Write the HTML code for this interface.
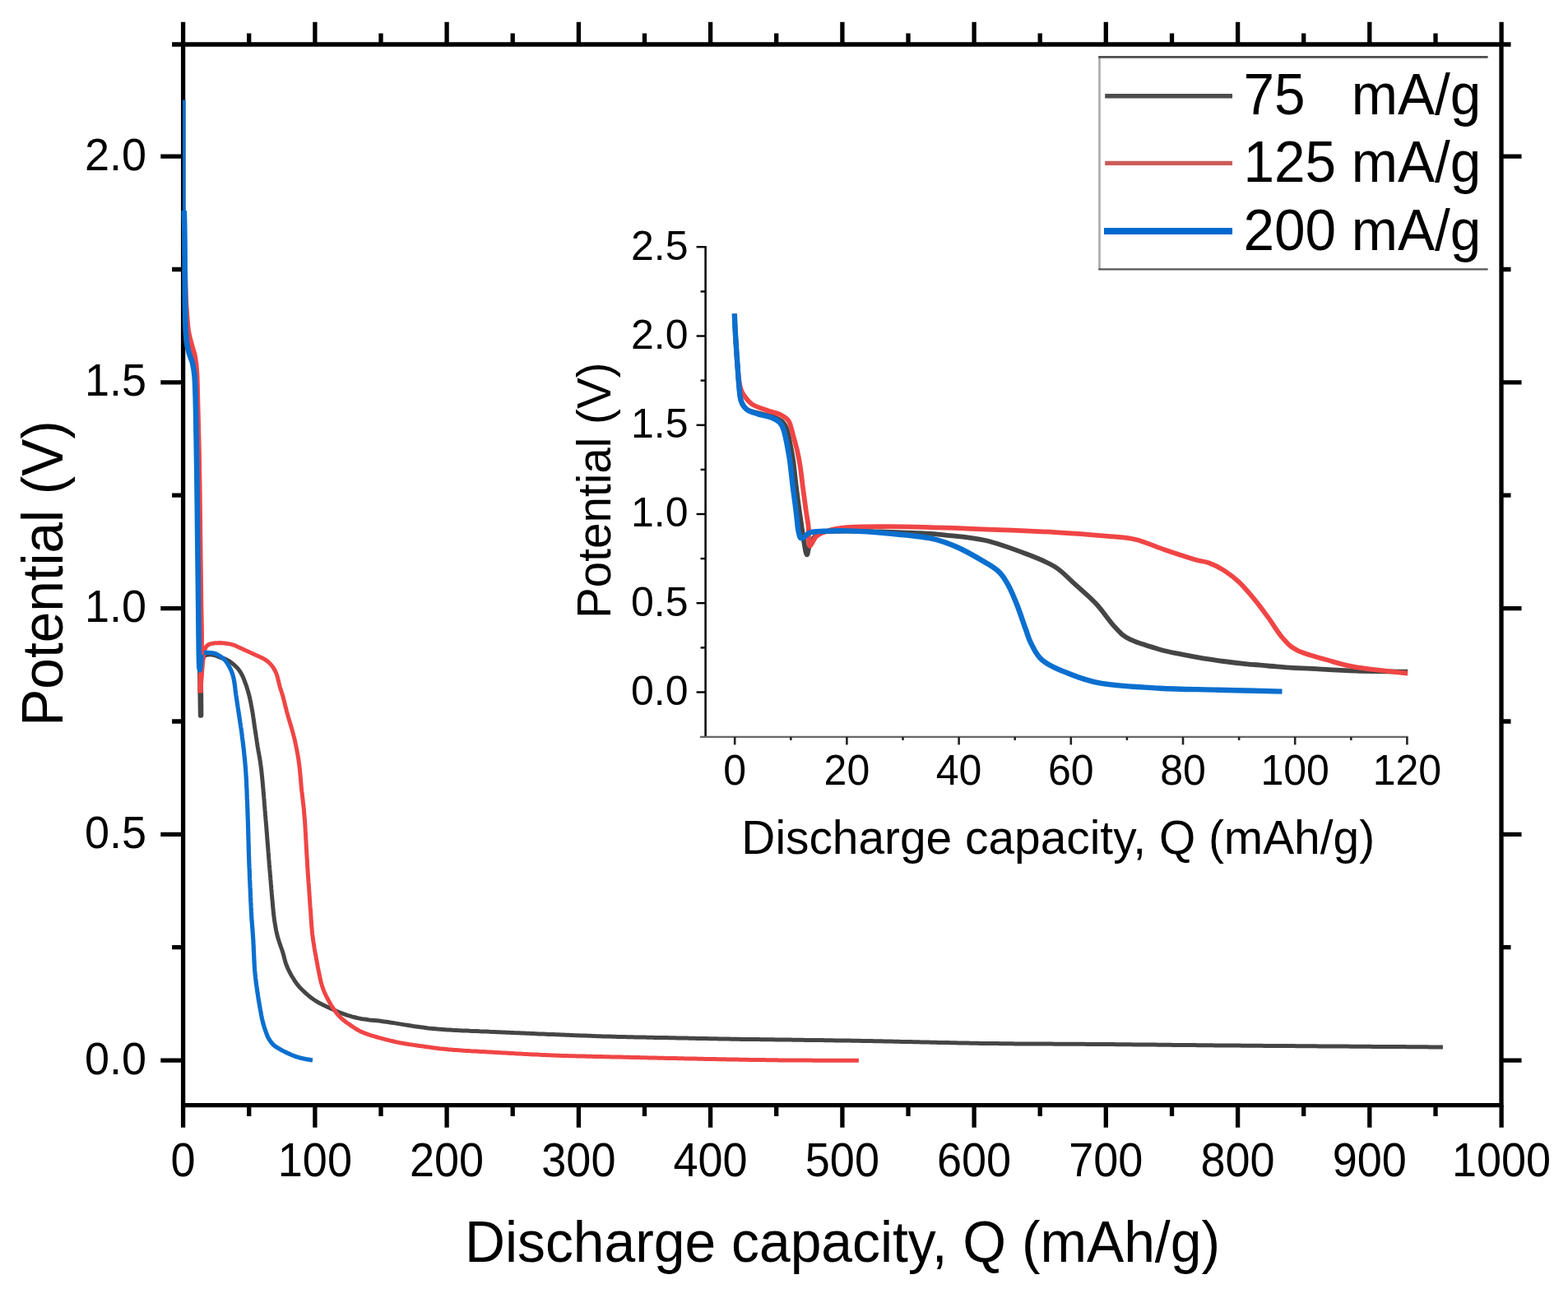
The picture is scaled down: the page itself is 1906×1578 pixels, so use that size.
<!DOCTYPE html>
<html><head><meta charset="utf-8"><title>Discharge capacity plot</title>
<style>
html,body{margin:0;padding:0;background:#fff;}
svg{display:block;}
text{font-family:"Liberation Sans", Arial, sans-serif;fill:#000;}
</style></head><body>
<svg width="1906" height="1578" viewBox="0 0 1906 1578">
<rect x="0" y="0" width="1906" height="1578" fill="#fff"/>
<g stroke="#000" stroke-width="5.3" fill="none" stroke-linecap="butt">
<path d="M222.6,54.0 H1825.0 V1343.6 H222.6 Z" stroke-linejoin="miter"/>
<path d="M222.6,1343.6 V1370.8 M222.6,54.0 V26.8"/>
<path d="M302.7,1343.6 V1357.1 M302.7,54.0 V40.5"/>
<path d="M382.9,1343.6 V1370.8 M382.9,54.0 V26.8"/>
<path d="M463.0,1343.6 V1357.1 M463.0,54.0 V40.5"/>
<path d="M543.1,1343.6 V1370.8 M543.1,54.0 V26.8"/>
<path d="M623.2,1343.6 V1357.1 M623.2,54.0 V40.5"/>
<path d="M703.4,1343.6 V1370.8 M703.4,54.0 V26.8"/>
<path d="M783.5,1343.6 V1357.1 M783.5,54.0 V40.5"/>
<path d="M863.6,1343.6 V1370.8 M863.6,54.0 V26.8"/>
<path d="M943.7,1343.6 V1357.1 M943.7,54.0 V40.5"/>
<path d="M1023.9,1343.6 V1370.8 M1023.9,54.0 V26.8"/>
<path d="M1104.0,1343.6 V1357.1 M1104.0,54.0 V40.5"/>
<path d="M1184.1,1343.6 V1370.8 M1184.1,54.0 V26.8"/>
<path d="M1264.2,1343.6 V1357.1 M1264.2,54.0 V40.5"/>
<path d="M1344.3,1343.6 V1370.8 M1344.3,54.0 V26.8"/>
<path d="M1424.5,1343.6 V1357.1 M1424.5,54.0 V40.5"/>
<path d="M1504.6,1343.6 V1370.8 M1504.6,54.0 V26.8"/>
<path d="M1584.7,1343.6 V1357.1 M1584.7,54.0 V40.5"/>
<path d="M1664.8,1343.6 V1370.8 M1664.8,54.0 V26.8"/>
<path d="M1745.0,1343.6 V1357.1 M1745.0,54.0 V40.5"/>
<path d="M1825.1,1343.6 V1370.8 M1825.1,54.0 V26.8"/>
<path d="M222.6,1289.1 H195.3 M1825.0,1289.1 H1849.5"/>
<path d="M222.6,1151.7 H209.1 M1825.0,1151.7 H1836.5"/>
<path d="M222.6,1014.3 H195.3 M1825.0,1014.3 H1849.5"/>
<path d="M222.6,877.0 H209.1 M1825.0,877.0 H1836.5"/>
<path d="M222.6,739.6 H195.3 M1825.0,739.6 H1849.5"/>
<path d="M222.6,602.2 H209.1 M1825.0,602.2 H1836.5"/>
<path d="M222.6,464.8 H195.3 M1825.0,464.8 H1849.5"/>
<path d="M222.6,327.5 H209.1 M1825.0,327.5 H1836.5"/>
<path d="M222.6,190.1 H195.3 M1825.0,190.1 H1849.5"/>
<path d="M222.6,54.0 H209.1 M1825.0,54.0 H1836.5"/>
</g>
<g fill="none" stroke-linejoin="round" stroke-linecap="butt">
<path d="M224.8,349.5 C224.9,356.5 225.1,380.5 225.4,391.8 C225.8,403.0 226.2,410.6 227.1,417.0 C228.0,423.5 229.7,426.2 231.0,430.2 C232.3,434.3 233.9,436.9 234.9,441.2 C236.0,445.5 236.7,449.8 237.3,456.1 C237.9,462.3 238.2,468.0 238.5,478.6 C238.9,489.2 239.1,503.8 239.4,519.8 C239.7,535.8 240.0,552.7 240.3,574.7 C240.6,596.8 240.8,626.4 241.1,652.2 C241.4,678.1 241.6,694.3 242.1,729.7 C242.6,765.2 243.7,846.8 244.0,864.9 C244.3,883.0 243.9,842.9 243.9,838.5 L244.0,835.5 L244.2,832.5 L244.3,829.5 L244.4,826.5 L244.6,823.5 L244.7,820.5 L244.9,817.5 L245.1,814.5 L245.3,811.5 L245.6,808.6 L245.9,805.6 L246.3,802.6 L247.0,799.7 L248.7,797.3 L251.5,796.1 L254.4,795.8 L257.4,796.0 L260.4,796.5 L263.2,797.5 L266.0,798.7 L268.8,799.7 L271.7,800.4 L274.5,801.4 L277.1,802.9 L279.7,804.5 L282.1,806.3 L284.4,808.1 L286.6,810.2 L288.7,812.3 L290.6,814.7 L292.3,817.1 L293.7,819.7 L295.1,822.4 L296.2,825.2 L297.3,828.0 L298.4,830.8 L299.4,833.6 L300.3,836.5 L301.2,839.4 L302.0,842.2 L302.8,845.1 L303.5,848.1 L304.1,851.0 L304.8,853.9 L305.3,856.9 L305.9,859.8 L306.4,862.8 L306.9,865.7 L307.4,868.7 L307.8,871.7 L308.3,874.6 L308.7,877.6 L309.1,880.6 L309.5,883.5 L310.0,886.5 L310.4,889.5 L310.9,892.4 L311.3,895.4 L311.8,898.4 L312.2,901.3 L312.7,904.3 L313.1,907.3 L313.6,910.2 L314.1,913.2 L314.7,916.1 L315.2,919.1 L315.7,922.0 L316.2,925.0 L316.6,928.0 L317.0,930.9 L317.4,933.9 L317.8,936.9 L318.1,939.9 L318.4,942.9 L318.7,945.8 L319.0,948.8 L319.3,951.8 L319.5,954.8 L319.8,957.8 L320.1,960.8 L320.3,963.8 L320.6,966.8 L320.8,969.7 L321.1,972.7 L321.3,975.7 L321.5,978.7 L321.8,981.7 L322.0,984.7 L322.3,987.7 L322.5,990.7 L322.8,993.7 L323.0,996.7 L323.3,999.6 L323.5,1002.6 L323.8,1005.6 L324.0,1008.6 L324.2,1011.6 L324.5,1014.6 L324.7,1017.6 L324.9,1020.6 L325.2,1023.6 L325.4,1026.6 L325.7,1029.6 L325.9,1032.5 L326.1,1035.5 L326.4,1038.5 L326.6,1041.5 L326.8,1044.5 L327.1,1047.5 L327.3,1050.5 L327.6,1053.5 L327.8,1056.5 L328.1,1059.5 L328.3,1062.4 L328.6,1065.4 L328.8,1068.4 L329.1,1071.4 L329.3,1074.4 L329.6,1077.4 L329.8,1080.4 L330.1,1083.4 L330.3,1086.4 L330.6,1089.4 L330.8,1092.3 L331.1,1095.3 L331.4,1098.3 L331.6,1101.3 L331.9,1104.3 L332.2,1107.3 L332.5,1110.3 L332.8,1113.2 L333.2,1116.2 L333.6,1119.2 L334.1,1122.2 L334.6,1125.1 L335.1,1128.1 L335.6,1131.0 L336.3,1133.9 L337.0,1136.9 L337.7,1139.8 L338.6,1142.6 L339.5,1145.5 L340.5,1148.3 L341.5,1151.2 L342.5,1154.0 L343.4,1156.8 L344.3,1159.7 L345.1,1162.6 L345.8,1165.5 L346.6,1168.4 L347.5,1171.3 L348.5,1174.1 L349.7,1176.9 L350.9,1179.6 L352.3,1182.2 L353.7,1184.9 L355.2,1187.5 L356.8,1190.0 L358.4,1192.6 L360.1,1195.0 L361.9,1197.4 L363.8,1199.8 L365.8,1201.9 L368.0,1204.0 L370.2,1206.1 L372.4,1208.1 L374.7,1210.1 L377.0,1212.0 L379.3,1213.8 L381.8,1215.5 L384.3,1217.1 L386.9,1218.7 L389.5,1220.1 L392.2,1221.4 L394.9,1222.8 L397.6,1224.0 L400.3,1225.3 L403.1,1226.6 L405.8,1227.8 L408.5,1229.0 L411.3,1230.2 L414.1,1231.4 L416.9,1232.4 L419.7,1233.4 L422.5,1234.4 L425.4,1235.2 L428.3,1236.1 L431.2,1236.8 L434.1,1237.5 L437.0,1238.1 L440.0,1238.7 L443.0,1239.1 L445.9,1239.5 L448.9,1239.9 L451.9,1240.2 L454.9,1240.5 L457.9,1240.8 L460.8,1241.1 L463.8,1241.5 L466.8,1241.9 L469.8,1242.3 L472.7,1242.7 L475.7,1243.2 L478.6,1243.6 L481.6,1244.1 L484.6,1244.6 L487.5,1245.1 L490.5,1245.6 L493.5,1246.1 L496.4,1246.5 L499.4,1247.0 L502.3,1247.5 L505.3,1247.9 L508.3,1248.3 L511.2,1248.7 L514.2,1249.1 L517.2,1249.5 L520.2,1249.9 L523.2,1250.2 L526.1,1250.5 L529.1,1250.8 L532.1,1251.1 L535.1,1251.3 L538.1,1251.5 L541.1,1251.7 L544.1,1251.9 L547.1,1252.1 L550.1,1252.3 L553.1,1252.4 L556.0,1252.6 L559.0,1252.7 L562.0,1252.9 L565.0,1253.0 L568.0,1253.1 L571.0,1253.3 L574.0,1253.4 L577.0,1253.5 L580.0,1253.6 L583.0,1253.8 L586.0,1253.9 L589.0,1254.0 L592.0,1254.1 L595.0,1254.3 L598.0,1254.4 L601.0,1254.5 L604.0,1254.7 L607.0,1254.8 L610.0,1254.9 L613.0,1255.0 L616.0,1255.2 L619.0,1255.3 L622.0,1255.4 L625.0,1255.6 L628.0,1255.7 L631.0,1255.8 L634.0,1256.0 L637.0,1256.1 L640.0,1256.2 L643.0,1256.3 L646.0,1256.5 L649.0,1256.6 L652.0,1256.7 L655.0,1256.9 L658.0,1257.0 L661.0,1257.1 L663.9,1257.2 L666.9,1257.4 L669.9,1257.5 L672.9,1257.6 L675.9,1257.7 L678.9,1257.8 L681.9,1258.0 L684.9,1258.1 L687.9,1258.2 L690.9,1258.3 L693.9,1258.4 L696.9,1258.6 L699.9,1258.7 L702.9,1258.8 L705.9,1258.9 L708.9,1259.0 L711.9,1259.1 L714.9,1259.2 L717.9,1259.3 L720.9,1259.4 L723.9,1259.6 L726.9,1259.7 L729.9,1259.8 L732.9,1259.9 L735.9,1260.0 L738.9,1260.0 L741.9,1260.1 L744.9,1260.2 L747.9,1260.3 L750.9,1260.4 L753.9,1260.5 L756.9,1260.6 L759.9,1260.6 L762.9,1260.7 L765.9,1260.8 L768.9,1260.8 L771.9,1260.9 L774.9,1261.0 L777.9,1261.0 L780.9,1261.1 L783.9,1261.1 L786.9,1261.2 L789.9,1261.2 L792.9,1261.3 L795.9,1261.4 L798.9,1261.4 L801.9,1261.5 L804.9,1261.5 L807.9,1261.6 L810.9,1261.6 L813.9,1261.7 L816.9,1261.7 L819.9,1261.8 L822.9,1261.9 L825.9,1261.9 L828.9,1262.0 L831.9,1262.0 L834.9,1262.1 L837.9,1262.2 L840.9,1262.2 L843.9,1262.3 L846.9,1262.4 L849.9,1262.4 L852.9,1262.5 L855.9,1262.5 L858.9,1262.6 L861.9,1262.7 L864.9,1262.7 L867.9,1262.8 L870.9,1262.8 L873.9,1262.9 L876.9,1263.0 L879.9,1263.0 L882.9,1263.1 L885.9,1263.1 L888.9,1263.2 L891.9,1263.2 L894.9,1263.3 L897.9,1263.3 L900.9,1263.4 L903.9,1263.4 L906.9,1263.4 L909.9,1263.5 L912.9,1263.5 L915.9,1263.6 L918.9,1263.6 L921.9,1263.6 L924.9,1263.7 L927.9,1263.7 L930.9,1263.7 L933.9,1263.8 L936.9,1263.8 L939.9,1263.8 L942.9,1263.9 L945.9,1263.9 L948.9,1264.0 L951.9,1264.0 L954.9,1264.0 L957.9,1264.1 L960.9,1264.1 L963.9,1264.2 L966.9,1264.2 L969.9,1264.2 L972.9,1264.3 L975.9,1264.3 L978.9,1264.4 L981.9,1264.4 L984.9,1264.4 L987.9,1264.5 L990.9,1264.5 L993.9,1264.6 L996.9,1264.6 L999.9,1264.6 L1002.9,1264.7 L1005.9,1264.7 L1008.8,1264.8 L1011.8,1264.8 L1014.8,1264.9 L1017.8,1264.9 L1020.8,1265.0 L1023.8,1265.0 L1026.8,1265.0 L1029.8,1265.1 L1032.8,1265.1 L1035.8,1265.2 L1038.8,1265.2 L1041.8,1265.3 L1044.8,1265.3 L1047.8,1265.4 L1050.8,1265.4 L1053.8,1265.5 L1056.8,1265.6 L1059.8,1265.6 L1062.8,1265.7 L1065.8,1265.7 L1068.8,1265.8 L1071.8,1265.8 L1074.8,1265.9 L1077.8,1266.0 L1080.8,1266.0 L1083.8,1266.1 L1086.8,1266.2 L1089.8,1266.2 L1092.8,1266.3 L1095.8,1266.4 L1098.8,1266.4 L1101.8,1266.5 L1104.8,1266.6 L1107.8,1266.6 L1110.8,1266.7 L1113.8,1266.8 L1116.8,1266.8 L1119.8,1266.9 L1122.8,1267.0 L1125.8,1267.0 L1128.8,1267.1 L1131.8,1267.2 L1134.8,1267.2 L1137.8,1267.3 L1140.8,1267.4 L1143.8,1267.4 L1146.8,1267.5 L1149.8,1267.6 L1152.8,1267.6 L1155.8,1267.7 L1158.8,1267.8 L1161.8,1267.8 L1164.8,1267.9 L1167.8,1267.9 L1170.8,1268.0 L1173.8,1268.1 L1176.8,1268.1 L1179.8,1268.2 L1182.8,1268.2 L1185.8,1268.3 L1188.8,1268.3 L1191.8,1268.4 L1194.8,1268.4 L1197.8,1268.4 L1200.8,1268.5 L1203.8,1268.5 L1206.8,1268.6 L1209.8,1268.6 L1212.8,1268.6 L1215.8,1268.7 L1218.8,1268.7 L1221.8,1268.7 L1224.8,1268.8 L1227.8,1268.8 L1230.8,1268.8 L1233.8,1268.9 L1236.8,1268.9 L1239.8,1268.9 L1242.8,1268.9 L1245.8,1268.9 L1248.8,1269.0 L1251.8,1269.0 L1254.8,1269.0 L1257.8,1269.0 L1260.8,1269.0 L1263.8,1269.1 L1266.8,1269.1 L1269.8,1269.1 L1272.8,1269.1 L1275.8,1269.1 L1278.8,1269.1 L1281.8,1269.2 L1284.8,1269.2 L1287.8,1269.2 L1290.8,1269.2 L1293.8,1269.2 L1296.8,1269.2 L1299.8,1269.2 L1302.8,1269.3 L1305.8,1269.3 L1308.8,1269.3 L1311.8,1269.3 L1314.8,1269.3 L1317.8,1269.3 L1320.8,1269.4 L1323.8,1269.4 L1326.8,1269.4 L1329.8,1269.4 L1332.8,1269.5 L1335.8,1269.5 L1338.8,1269.5 L1341.8,1269.5 L1344.8,1269.5 L1347.8,1269.6 L1350.8,1269.6 L1353.8,1269.6 L1356.8,1269.7 L1359.8,1269.7 L1362.8,1269.7 L1365.8,1269.7 L1368.8,1269.8 L1371.8,1269.8 L1374.8,1269.8 L1377.8,1269.9 L1380.8,1269.9 L1383.8,1269.9 L1386.8,1270.0 L1389.8,1270.0 L1392.8,1270.0 L1395.8,1270.0 L1398.8,1270.1 L1401.8,1270.1 L1404.8,1270.1 L1407.8,1270.2 L1410.8,1270.2 L1413.8,1270.2 L1416.8,1270.3 L1419.8,1270.3 L1422.8,1270.3 L1425.8,1270.4 L1428.8,1270.4 L1431.8,1270.4 L1434.8,1270.5 L1437.8,1270.5 L1440.8,1270.5 L1443.8,1270.5 L1446.8,1270.6 L1449.8,1270.6 L1452.8,1270.6 L1455.8,1270.7 L1458.8,1270.7 L1461.8,1270.7 L1464.8,1270.8 L1467.8,1270.8 L1470.8,1270.8 L1473.8,1270.8 L1476.8,1270.9 L1479.8,1270.9 L1482.8,1270.9 L1485.8,1270.9 L1488.8,1271.0 L1491.8,1271.0 L1494.8,1271.0 L1497.8,1271.1 L1500.8,1271.1 L1503.8,1271.1 L1506.8,1271.1 L1509.8,1271.2 L1512.8,1271.2 L1515.8,1271.2 L1518.8,1271.2 L1521.8,1271.3 L1524.8,1271.3 L1527.8,1271.3 L1530.8,1271.3 L1533.8,1271.3 L1536.8,1271.4 L1539.8,1271.4 L1542.8,1271.4 L1545.8,1271.4 L1548.8,1271.5 L1551.8,1271.5 L1554.8,1271.5 L1557.8,1271.5 L1560.8,1271.6 L1563.8,1271.6 L1566.8,1271.6 L1569.8,1271.6 L1572.8,1271.6 L1575.8,1271.7 L1578.8,1271.7 L1581.8,1271.7 L1584.8,1271.7 L1587.8,1271.8 L1590.8,1271.8 L1593.8,1271.8 L1596.8,1271.8 L1599.8,1271.8 L1602.8,1271.9 L1605.8,1271.9 L1608.8,1271.9 L1611.8,1271.9 L1614.8,1272.0 L1617.8,1272.0 L1620.8,1272.0 L1623.8,1272.0 L1626.8,1272.1 L1629.8,1272.1 L1632.8,1272.1 L1635.8,1272.1 L1638.8,1272.1 L1641.8,1272.2 L1644.8,1272.2 L1647.8,1272.2 L1650.8,1272.2 L1653.8,1272.2 L1656.8,1272.3 L1659.8,1272.3 L1662.8,1272.3 L1665.8,1272.3 L1668.8,1272.4 L1671.8,1272.4 L1674.8,1272.4 L1677.8,1272.4 L1680.8,1272.4 L1683.8,1272.5 L1686.8,1272.5 L1689.8,1272.5 L1692.8,1272.5 L1695.8,1272.5 L1698.8,1272.6 L1701.8,1272.6 L1704.8,1272.6 L1707.8,1272.6 L1710.8,1272.7 L1713.8,1272.7 L1716.8,1272.7 L1719.8,1272.7 L1722.8,1272.8 L1725.8,1272.8 L1728.8,1272.8 L1731.8,1272.8 L1734.8,1272.8 L1737.8,1272.9 L1740.8,1272.9 L1743.8,1272.9 L1746.8,1272.9 L1749.7,1273.0 L1752.6,1273.0 L1753.9,1273.0" stroke="#454545" stroke-width="5.0"/>
<path d="M224.8,327.5 C224.9,332.1 225.1,347.4 225.4,354.9 C225.6,362.5 225.7,364.8 226.2,372.5 C226.7,380.2 227.5,393.1 228.6,401.1 C229.7,409.1 231.7,415.0 233.1,420.3 C234.4,425.7 235.7,427.6 236.7,433.0 C237.7,438.4 238.4,442.5 239.0,452.8 C239.6,463.0 239.8,479.5 240.2,494.5 C240.6,509.5 241.1,526.3 241.4,542.9 C241.8,559.5 242.1,575.8 242.3,594.0 C242.6,612.2 242.7,629.6 243.0,652.2 C243.3,674.9 243.7,708.3 244.0,729.7 C244.3,751.1 244.8,762.0 244.7,780.8 C244.6,799.6 243.8,832.2 243.6,842.5 L243.8,839.5 L244.0,836.5 L244.3,833.5 L244.5,830.5 L244.7,827.5 L244.9,824.6 L245.2,821.6 L245.4,818.6 L245.7,815.6 L245.9,812.6 L246.2,809.6 L246.5,806.6 L246.8,803.6 L247.1,800.6 L247.5,797.7 L247.9,794.7 L248.6,791.8 L249.3,788.9 L250.6,786.1 L252.7,784.1 L255.5,782.9 L258.4,782.2 L261.4,781.8 L264.4,781.7 L267.4,781.6 L270.4,781.7 L273.3,782.0 L276.3,782.4 L279.3,782.9 L282.2,783.6 L285.1,784.5 L287.8,785.7 L290.5,787.0 L293.2,788.3 L295.9,789.5 L298.6,790.8 L301.4,792.0 L304.1,793.3 L306.8,794.5 L309.6,795.7 L312.3,797.0 L315.1,798.2 L317.8,799.5 L320.4,800.8 L323.0,802.4 L325.4,804.1 L327.6,806.1 L329.6,808.3 L331.5,810.7 L333.1,813.2 L334.5,815.8 L335.8,818.5 L336.8,821.4 L337.6,824.2 L338.3,827.1 L339.0,830.1 L339.7,833.0 L340.5,835.9 L341.4,838.7 L342.3,841.6 L343.2,844.5 L344.1,847.3 L344.8,850.2 L345.6,853.1 L346.3,856.0 L347.0,859.0 L347.8,861.9 L348.5,864.8 L349.3,867.7 L350.1,870.6 L350.9,873.4 L351.8,876.3 L352.7,879.2 L353.5,882.1 L354.4,884.9 L355.2,887.8 L356.0,890.7 L356.7,893.6 L357.5,896.5 L358.2,899.4 L358.9,902.4 L359.5,905.3 L360.1,908.2 L360.7,911.2 L361.3,914.1 L361.8,917.1 L362.3,920.0 L362.8,923.0 L363.2,926.0 L363.6,928.9 L364.0,931.9 L364.3,934.9 L364.6,937.9 L364.9,940.9 L365.2,943.8 L365.4,946.8 L365.7,949.8 L365.9,952.8 L366.2,955.8 L366.5,958.8 L366.8,961.8 L367.2,964.7 L367.5,967.7 L367.9,970.7 L368.2,973.7 L368.5,976.7 L368.9,979.6 L369.2,982.6 L369.5,985.6 L369.7,988.6 L370.0,991.6 L370.2,994.6 L370.5,997.6 L370.7,1000.6 L370.9,1003.6 L371.1,1006.6 L371.2,1009.6 L371.4,1012.5 L371.6,1015.5 L371.7,1018.5 L371.9,1021.5 L372.1,1024.5 L372.2,1027.5 L372.4,1030.5 L372.6,1033.5 L372.7,1036.5 L372.9,1039.5 L373.1,1042.5 L373.3,1045.5 L373.5,1048.5 L373.6,1051.5 L373.8,1054.5 L374.0,1057.5 L374.2,1060.5 L374.4,1063.5 L374.6,1066.4 L374.8,1069.4 L375.0,1072.4 L375.3,1075.4 L375.5,1078.4 L375.7,1081.4 L375.9,1084.4 L376.1,1087.4 L376.3,1090.4 L376.5,1093.4 L376.7,1096.4 L376.9,1099.4 L377.1,1102.4 L377.4,1105.4 L377.6,1108.3 L377.8,1111.3 L378.0,1114.3 L378.2,1117.3 L378.4,1120.3 L378.6,1123.3 L378.8,1126.3 L379.1,1129.3 L379.3,1132.3 L379.6,1135.3 L380.0,1138.2 L380.4,1141.2 L380.8,1144.2 L381.3,1147.1 L381.8,1150.1 L382.2,1153.1 L382.7,1156.0 L383.3,1159.0 L383.8,1161.9 L384.3,1164.9 L384.9,1167.8 L385.4,1170.8 L386.0,1173.7 L386.5,1176.7 L387.1,1179.6 L387.7,1182.6 L388.3,1185.5 L388.9,1188.4 L389.6,1191.4 L390.3,1194.3 L391.1,1197.2 L392.0,1200.0 L393.0,1202.9 L394.1,1205.6 L395.3,1208.4 L396.6,1211.1 L398.0,1213.7 L399.4,1216.4 L400.8,1219.0 L402.3,1221.6 L403.9,1224.2 L405.6,1226.7 L407.3,1229.1 L409.1,1231.6 L411.0,1233.9 L413.0,1236.1 L415.2,1238.1 L417.4,1240.1 L419.8,1241.9 L422.2,1243.7 L424.7,1245.4 L427.1,1247.1 L429.6,1248.8 L432.1,1250.5 L434.7,1252.0 L437.3,1253.4 L440.0,1254.7 L442.8,1255.8 L445.6,1256.9 L448.4,1257.9 L451.3,1258.8 L454.2,1259.7 L457.0,1260.5 L459.9,1261.3 L462.8,1262.1 L465.7,1262.9 L468.6,1263.7 L471.5,1264.4 L474.4,1265.1 L477.3,1265.8 L480.3,1266.5 L483.2,1267.1 L486.1,1267.7 L489.1,1268.2 L492.0,1268.7 L495.0,1269.2 L498.0,1269.7 L500.9,1270.1 L503.9,1270.6 L506.9,1271.0 L509.8,1271.4 L512.8,1271.8 L515.8,1272.3 L518.7,1272.7 L521.7,1273.1 L524.7,1273.5 L527.7,1273.9 L530.6,1274.3 L533.6,1274.7 L536.6,1275.0 L539.6,1275.3 L542.5,1275.6 L545.5,1275.9 L548.5,1276.1 L551.5,1276.4 L554.5,1276.6 L557.5,1276.8 L560.5,1277.0 L563.5,1277.2 L566.5,1277.4 L569.5,1277.6 L572.5,1277.8 L575.5,1277.9 L578.4,1278.1 L581.4,1278.3 L584.4,1278.5 L587.4,1278.6 L590.4,1278.8 L593.4,1279.0 L596.4,1279.1 L599.4,1279.3 L602.4,1279.5 L605.4,1279.6 L608.4,1279.8 L611.4,1280.0 L614.4,1280.1 L617.4,1280.3 L620.4,1280.5 L623.4,1280.6 L626.4,1280.8 L629.4,1280.9 L632.4,1281.1 L635.4,1281.3 L638.4,1281.4 L641.4,1281.6 L644.4,1281.7 L647.3,1281.9 L650.3,1282.0 L653.3,1282.1 L656.3,1282.3 L659.3,1282.4 L662.3,1282.5 L665.3,1282.7 L668.3,1282.8 L671.3,1282.9 L674.3,1283.0 L677.3,1283.2 L680.3,1283.3 L683.3,1283.4 L686.3,1283.5 L689.3,1283.6 L692.3,1283.7 L695.3,1283.7 L698.3,1283.8 L701.3,1283.9 L704.3,1284.0 L707.3,1284.1 L710.3,1284.1 L713.3,1284.2 L716.3,1284.3 L719.3,1284.3 L722.3,1284.4 L725.3,1284.5 L728.3,1284.5 L731.3,1284.6 L734.3,1284.7 L737.3,1284.7 L740.3,1284.8 L743.3,1284.9 L746.3,1284.9 L749.3,1285.0 L752.3,1285.1 L755.3,1285.1 L758.3,1285.2 L761.3,1285.3 L764.3,1285.3 L767.3,1285.4 L770.3,1285.5 L773.3,1285.5 L776.3,1285.6 L779.3,1285.7 L782.3,1285.8 L785.3,1285.8 L788.3,1285.9 L791.3,1286.0 L794.3,1286.0 L797.3,1286.1 L800.3,1286.2 L803.3,1286.2 L806.3,1286.3 L809.3,1286.4 L812.3,1286.4 L815.3,1286.5 L818.3,1286.6 L821.3,1286.6 L824.3,1286.7 L827.3,1286.8 L830.3,1286.8 L833.3,1286.9 L836.3,1286.9 L839.3,1287.0 L842.3,1287.1 L845.3,1287.1 L848.3,1287.2 L851.3,1287.3 L854.3,1287.3 L857.3,1287.4 L860.3,1287.4 L863.3,1287.5 L866.3,1287.6 L869.3,1287.6 L872.3,1287.7 L875.3,1287.7 L878.3,1287.8 L881.3,1287.8 L884.3,1287.9 L887.3,1287.9 L890.3,1288.0 L893.3,1288.1 L896.3,1288.1 L899.3,1288.2 L902.3,1288.2 L905.3,1288.3 L908.3,1288.3 L911.3,1288.4 L914.3,1288.4 L917.3,1288.5 L920.3,1288.5 L923.3,1288.5 L926.3,1288.6 L929.3,1288.6 L932.3,1288.7 L935.3,1288.7 L938.3,1288.8 L941.3,1288.8 L944.3,1288.8 L947.3,1288.9 L950.3,1288.9 L953.3,1288.9 L956.3,1288.9 L959.3,1289.0 L962.3,1289.0 L965.3,1289.0 L968.3,1289.0 L971.3,1289.1 L974.3,1289.1 L977.3,1289.1 L980.3,1289.1 L983.3,1289.1 L986.3,1289.1 L989.3,1289.2 L992.3,1289.2 L995.3,1289.2 L998.3,1289.2 L1001.3,1289.2 L1004.3,1289.2 L1007.3,1289.2 L1010.3,1289.2 L1013.3,1289.2 L1016.3,1289.2 L1019.3,1289.2 L1022.3,1289.2 L1025.3,1289.3 L1028.3,1289.3 L1031.3,1289.3 L1034.2,1289.3 L1037.2,1289.3 L1040.2,1289.3 L1043.1,1289.3 L1043.9,1289.3" stroke="#f04545" stroke-width="5.0"/>
<path d="M223.8,256.0 C223.9,260.9 224.2,269.6 224.4,285.2 C224.6,300.7 224.7,331.7 224.8,349.5 C225.0,367.2 225.1,380.5 225.4,391.8 C225.8,403.0 226.3,410.6 227.1,417.0 C227.9,423.5 228.9,426.2 230.1,430.2 C231.2,434.3 232.9,436.9 234.0,441.2 C235.0,445.5 235.8,449.8 236.4,456.1 C237.0,462.3 237.2,468.0 237.5,478.6 C237.9,489.2 238.1,503.8 238.4,519.8 C238.7,535.8 239.0,552.7 239.3,574.7 C239.6,596.8 239.9,626.4 240.2,652.2 C240.5,678.1 240.8,706.0 241.1,729.7 C241.4,753.4 241.6,780.4 241.8,794.5 C242.1,808.7 242.3,814.1 242.8,814.3 C243.2,814.6 244.2,799.1 244.5,796.0 L246.5,793.8 L249.4,793.4 L252.4,793.4 L255.4,793.5 L258.4,793.8 L261.3,794.5 L264.1,795.7 L266.7,797.2 L269.2,798.9 L271.5,800.7 L273.7,802.8 L275.5,805.2 L277.1,807.7 L278.6,810.3 L280.0,813.0 L281.2,815.7 L282.3,818.5 L283.2,821.4 L283.9,824.3 L284.5,827.2 L285.0,830.2 L285.4,833.2 L285.8,836.1 L286.1,839.1 L286.5,842.1 L286.9,845.1 L287.4,848.0 L287.8,851.0 L288.2,854.0 L288.7,856.9 L289.1,859.9 L289.6,862.9 L290.0,865.8 L290.5,868.8 L290.9,871.8 L291.4,874.7 L291.8,877.7 L292.3,880.7 L292.7,883.6 L293.2,886.6 L293.6,889.6 L294.0,892.5 L294.3,895.5 L294.7,898.5 L295.1,901.5 L295.5,904.5 L295.8,907.4 L296.2,910.4 L296.5,913.4 L296.8,916.4 L297.1,919.4 L297.4,922.3 L297.7,925.3 L298.0,928.3 L298.2,931.3 L298.5,934.3 L298.7,937.3 L298.9,940.3 L299.1,943.3 L299.3,946.3 L299.4,949.3 L299.6,952.3 L299.7,955.3 L299.9,958.3 L300.0,961.3 L300.1,964.3 L300.2,967.3 L300.3,970.2 L300.5,973.2 L300.6,976.2 L300.7,979.2 L300.8,982.2 L300.9,985.2 L301.0,988.2 L301.1,991.2 L301.2,994.2 L301.3,997.2 L301.4,1000.2 L301.5,1003.2 L301.6,1006.2 L301.7,1009.2 L301.7,1012.2 L301.8,1015.2 L301.9,1018.2 L302.0,1021.2 L302.1,1024.2 L302.2,1027.2 L302.2,1030.2 L302.3,1033.2 L302.4,1036.2 L302.5,1039.2 L302.6,1042.2 L302.7,1045.2 L302.8,1048.2 L302.9,1051.2 L303.0,1054.2 L303.2,1057.2 L303.3,1060.2 L303.4,1063.2 L303.5,1066.2 L303.6,1069.2 L303.8,1072.2 L303.9,1075.2 L304.0,1078.2 L304.2,1081.2 L304.3,1084.2 L304.4,1087.2 L304.5,1090.2 L304.7,1093.2 L304.8,1096.2 L305.0,1099.2 L305.1,1102.2 L305.3,1105.2 L305.4,1108.2 L305.6,1111.1 L305.7,1114.1 L305.9,1117.1 L306.1,1120.1 L306.4,1123.1 L306.6,1126.1 L306.8,1129.1 L307.1,1132.1 L307.3,1135.1 L307.5,1138.1 L307.7,1141.1 L307.9,1144.1 L308.0,1147.1 L308.2,1150.1 L308.3,1153.1 L308.4,1156.1 L308.6,1159.1 L308.7,1162.0 L308.8,1165.0 L309.0,1168.0 L309.1,1171.0 L309.3,1174.0 L309.5,1177.0 L309.7,1180.0 L310.0,1183.0 L310.3,1186.0 L310.6,1189.0 L311.0,1192.0 L311.3,1194.9 L311.7,1197.9 L312.2,1200.9 L312.6,1203.8 L313.0,1206.8 L313.5,1209.8 L313.9,1212.7 L314.4,1215.7 L314.9,1218.7 L315.4,1221.6 L315.9,1224.6 L316.4,1227.5 L317.0,1230.5 L317.5,1233.4 L318.1,1236.4 L318.7,1239.3 L319.4,1242.2 L320.1,1245.1 L321.0,1248.0 L321.9,1250.9 L322.9,1253.7 L323.9,1256.5 L325.0,1259.3 L326.3,1262.0 L327.8,1264.6 L329.5,1267.0 L331.5,1269.3 L333.7,1271.3 L336.1,1273.1 L338.6,1274.6 L341.2,1276.1 L343.9,1277.5 L346.6,1278.8 L349.3,1280.1 L352.0,1281.4 L354.7,1282.6 L357.5,1283.7 L360.3,1284.7 L363.2,1285.6 L366.1,1286.4 L369.0,1287.0 L372.0,1287.6 L375.0,1288.1 L377.9,1288.6 L380.0,1288.9" stroke="#0a6fcf" stroke-width="5.2"/>
<path d="M224.8,349.5 C224.9,356.5 225.1,380.5 225.4,391.8 C225.8,403.0 226.2,410.6 227.1,417.0 C228.0,423.5 229.7,426.2 231.0,430.2 C232.3,434.3 233.9,436.9 234.9,441.2 C236.0,445.5 236.7,449.8 237.3,456.1 C237.9,462.3 238.2,468.0 238.5,478.6 C238.9,489.2 239.1,503.8 239.4,519.8 C239.7,535.8 240.0,552.7 240.3,574.7 C240.6,596.8 240.8,626.4 241.1,652.2 C241.4,678.1 241.6,694.3 242.1,729.7 C242.6,765.2 243.7,846.8 244.0,864.9 C244.3,883.0 243.9,842.9 243.9,838.5" stroke="#454545" stroke-width="6.5"/>
<path d="M224.8,327.5 C224.9,332.1 225.1,347.4 225.4,354.9 C225.6,362.5 225.7,364.8 226.2,372.5 C226.7,380.2 227.5,393.1 228.6,401.1 C229.7,409.1 231.7,415.0 233.1,420.3 C234.4,425.7 235.7,427.6 236.7,433.0 C237.7,438.4 238.4,442.5 239.0,452.8 C239.6,463.0 239.8,479.5 240.2,494.5 C240.6,509.5 241.1,526.3 241.4,542.9 C241.8,559.5 242.1,575.8 242.3,594.0 C242.6,612.2 242.7,629.6 243.0,652.2 C243.3,674.9 243.7,708.3 244.0,729.7 C244.3,751.1 244.8,762.0 244.7,780.8 C244.6,799.6 243.8,832.2 243.6,842.5" stroke="#f04545" stroke-width="6.5"/>
<path d="M223.8,256.0 C223.9,260.9 224.2,269.6 224.4,285.2 C224.6,300.7 224.7,331.7 224.8,349.5 C225.0,367.2 225.1,380.5 225.4,391.8 C225.8,403.0 226.3,410.6 227.1,417.0 C227.9,423.5 228.9,426.2 230.1,430.2 C231.2,434.3 232.9,436.9 234.0,441.2 C235.0,445.5 235.8,449.8 236.4,456.1 C237.0,462.3 237.2,468.0 237.5,478.6 C237.9,489.2 238.1,503.8 238.4,519.8 C238.7,535.8 239.0,552.7 239.3,574.7 C239.6,596.8 239.9,626.4 240.2,652.2 C240.5,678.1 240.8,706.0 241.1,729.7 C241.4,753.4 241.6,780.4 241.8,794.5 C242.1,808.7 242.3,814.1 242.8,814.3 C243.2,814.6 244.2,799.1 244.5,796.0" stroke="#0a6fcf" stroke-width="6.6"/>
<path d="M223.9,121.4 V261.5" stroke="#0a6fcf" stroke-width="3.6"/>
</g>
<g font-size="54" text-anchor="end">
<text x="178" y="0.0" transform="translate(0 1305.5) scale(1 1.04) translate(0 0.0)">0.0</text>
<text x="178" y="0.0" transform="translate(0 1030.8) scale(1 1.04) translate(0 0.0)">0.5</text>
<text x="178" y="0.0" transform="translate(0 756.0) scale(1 1.04) translate(0 0.0)">1.0</text>
<text x="178" y="0.0" transform="translate(0 481.2) scale(1 1.04) translate(0 0.0)">1.5</text>
<text x="178" y="0.0" transform="translate(0 206.5) scale(1 1.04) translate(0 0.0)">2.0</text>
</g>
<g font-size="54" text-anchor="middle">
<text x="222.6" y="0" transform="translate(0 1430.3) scale(1 1.05)">0</text>
<text x="382.9" y="0" transform="translate(0 1430.3) scale(1 1.05)">100</text>
<text x="543.1" y="0" transform="translate(0 1430.3) scale(1 1.05)">200</text>
<text x="703.4" y="0" transform="translate(0 1430.3) scale(1 1.05)">300</text>
<text x="863.6" y="0" transform="translate(0 1430.3) scale(1 1.05)">400</text>
<text x="1023.9" y="0" transform="translate(0 1430.3) scale(1 1.05)">500</text>
<text x="1184.1" y="0" transform="translate(0 1430.3) scale(1 1.05)">600</text>
<text x="1344.3" y="0" transform="translate(0 1430.3) scale(1 1.05)">700</text>
<text x="1504.6" y="0" transform="translate(0 1430.3) scale(1 1.05)">800</text>
<text x="1664.8" y="0" transform="translate(0 1430.3) scale(1 1.05)">900</text>
<text x="1825.1" y="0" transform="translate(0 1430.3) scale(1 1.05)">1000</text>
</g>
<text font-size="67.8" x="0" y="0" transform="translate(1024 1534) scale(1 1.05)" text-anchor="middle">Discharge capacity, Q (mAh/g)</text>
<text font-size="67.5" x="0" y="0" transform="translate(75.8 697) rotate(-90) scale(1 1.05)" text-anchor="middle">Potential (V)</text>
<g fill="none">
<path d="M1336.5,327.4 V69.4" stroke="#a9a9a9" stroke-width="2.6"/>
<path d="M1335.2,69.4 H1808.6" stroke="#4d4d4d" stroke-width="2.6"/>
<path d="M1335.2,327.4 H1808.6" stroke="#555" stroke-width="2.4"/>
<path d="M1343.2,116.8 H1498" stroke="#4d4d4d" stroke-width="5.5"/>
<path d="M1343.2,198.4 H1498" stroke="#cc5b58" stroke-width="5.3"/>
<path d="M1342,281 H1498" stroke="#0068cf" stroke-width="8"/>
</g>
<g font-size="67.5">
<text x="0" y="0" transform="translate(1511.5 138.7) scale(1 1.03)">75&#160;&#160;&#160;mA/g</text>
<text x="0" y="0" transform="translate(1511.5 220.8) scale(1 1.03)">125 mA/g</text>
<text x="0" y="0" transform="translate(1511.5 303.8) scale(1 1.03)">200 mA/g</text>
</g>
<g fill="none" stroke-linecap="butt">
<path d="M857.6,299.2 V896.9" stroke="#000" stroke-width="2.5"/>
<path d="M850.9,895.9 H1711.6" stroke="#666" stroke-width="2.4"/>
<path d="M857.6,841.5 H846.6" stroke="#000" stroke-width="2.4"/>
<path d="M857.6,787.4 H851.6" stroke="#000" stroke-width="2.4"/>
<path d="M857.6,733.2 H846.6" stroke="#000" stroke-width="2.4"/>
<path d="M857.6,679.1 H851.6" stroke="#000" stroke-width="2.4"/>
<path d="M857.6,625.0 H846.6" stroke="#000" stroke-width="2.4"/>
<path d="M857.6,570.9 H851.6" stroke="#000" stroke-width="2.4"/>
<path d="M857.6,516.8 H846.6" stroke="#000" stroke-width="2.4"/>
<path d="M857.6,462.6 H851.6" stroke="#000" stroke-width="2.4"/>
<path d="M857.6,408.5 H846.6" stroke="#000" stroke-width="2.4"/>
<path d="M857.6,354.4 H851.6" stroke="#000" stroke-width="2.4"/>
<path d="M857.6,300.2 H846.6" stroke="#000" stroke-width="2.4"/>
<path d="M893.2,895.9 V905.4" stroke="#222" stroke-width="2.6"/>
<path d="M961.3,895.9 V899.9" stroke="#222" stroke-width="2.6"/>
<path d="M1029.4,895.9 V905.4" stroke="#222" stroke-width="2.6"/>
<path d="M1097.5,895.9 V899.9" stroke="#222" stroke-width="2.6"/>
<path d="M1165.6,895.9 V905.4" stroke="#222" stroke-width="2.6"/>
<path d="M1233.7,895.9 V899.9" stroke="#222" stroke-width="2.6"/>
<path d="M1301.8,895.9 V905.4" stroke="#222" stroke-width="2.6"/>
<path d="M1369.9,895.9 V899.9" stroke="#222" stroke-width="2.6"/>
<path d="M1438.0,895.9 V905.4" stroke="#222" stroke-width="2.6"/>
<path d="M1506.1,895.9 V899.9" stroke="#222" stroke-width="2.6"/>
<path d="M1574.2,895.9 V905.4" stroke="#222" stroke-width="2.6"/>
<path d="M1642.3,895.9 V899.9" stroke="#222" stroke-width="2.6"/>
<path d="M1710.4,895.9 V905.4" stroke="#222" stroke-width="2.6"/>
</g>
<g font-size="50" text-anchor="end">
<text x="0" y="0" transform="translate(836.5 856.8) scale(1 1.0)">0.0</text>
<text x="0" y="0" transform="translate(836.5 748.5) scale(1 1.0)">0.5</text>
<text x="0" y="0" transform="translate(836.5 640.3) scale(1 1.0)">1.0</text>
<text x="0" y="0" transform="translate(836.5 532.0) scale(1 1.0)">1.5</text>
<text x="0" y="0" transform="translate(836.5 423.8) scale(1 1.0)">2.0</text>
<text x="0" y="0" transform="translate(836.5 315.6) scale(1 1.0)">2.5</text>
</g>
<g font-size="50" text-anchor="middle">
<text x="0" y="0" transform="translate(893.2 953.5) scale(1 1.04)">0</text>
<text x="0" y="0" transform="translate(1029.4 953.5) scale(1 1.04)">20</text>
<text x="0" y="0" transform="translate(1165.6 953.5) scale(1 1.04)">40</text>
<text x="0" y="0" transform="translate(1301.8 953.5) scale(1 1.04)">60</text>
<text x="0" y="0" transform="translate(1438.0 953.5) scale(1 1.04)">80</text>
<text x="0" y="0" transform="translate(1574.2 953.5) scale(1 1.04)">100</text>
<text x="0" y="0" transform="translate(1710.4 953.5) scale(1 1.04)">120</text>
</g>
<text font-size="56.85" x="0" y="0" transform="translate(1286.2 1038)" text-anchor="middle">Discharge capacity, Q (mAh/g)</text>
<text font-size="56.6" x="0" y="0" transform="translate(741.8 596.2) rotate(-90)" text-anchor="middle">Potential (V)</text>
<g fill="none" stroke-linejoin="round" stroke-linecap="butt">
<path d="M892.8,381.4 C893.0,385.9 893.4,397.7 894.1,408.5 C894.7,419.3 895.9,435.5 896.6,446.0 C897.3,456.4 897.8,464.3 898.5,471.3 C899.2,478.3 899.4,483.5 901.0,488.0 C902.6,492.4 904.1,495.4 908.0,497.9 C912.0,500.4 919.2,501.5 924.8,503.1 C930.3,504.7 936.9,505.7 941.3,507.4 C945.8,509.1 949.0,510.8 951.5,513.3 C954.0,515.7 955.1,518.0 956.5,522.2 C958.0,526.3 959.1,532.1 960.3,538.4 C961.6,544.7 962.9,551.4 964.2,560.0 C965.4,568.7 966.4,580.4 967.7,590.6 C969.0,600.8 969.7,607.5 971.7,621.1 C973.7,634.7 977.8,665.1 979.8,672.2 C981.8,679.3 982.0,667.3 983.8,664.0 C985.6,660.6 987.5,654.9 990.6,652.1 C993.6,649.2 995.7,647.7 1002.2,646.6 C1008.6,645.6 1016.9,645.6 1029.4,645.6 C1041.9,645.6 1062.3,646.2 1077.1,646.6 C1091.8,647.1 1106.2,647.6 1117.9,648.2 C1129.7,648.8 1134.2,648.9 1147.6,650.3 C1160.9,651.8 1181.1,653.1 1197.9,657.0 C1214.8,660.9 1234.4,668.4 1248.4,673.7 C1262.4,679.0 1272.2,682.7 1282.1,688.9 C1291.9,695.0 1298.8,703.2 1307.2,710.7 C1315.6,718.3 1324.4,725.5 1332.4,734.1 C1340.5,742.8 1348.8,755.5 1355.6,762.7 C1362.4,769.9 1364.3,772.7 1373.3,777.2 C1382.3,781.7 1399.2,786.5 1409.4,789.5 C1419.6,792.5 1425.7,793.4 1434.6,795.2 C1443.4,797.0 1453.7,798.9 1462.5,800.4 C1471.4,801.8 1478.7,802.9 1487.7,804.0 C1496.7,805.2 1507.3,806.4 1516.3,807.3 C1525.3,808.2 1532.4,808.7 1541.5,809.5 C1550.6,810.2 1561.9,811.3 1570.8,811.8 C1579.6,812.4 1581.7,812.3 1594.6,812.9 C1607.6,813.6 1629.0,815.1 1648.4,815.7 C1667.8,816.3 1700.6,816.5 1711.1,816.6" stroke="#454545" stroke-width="5.8"/>
<path d="M894.2,412.8 C894.6,417.9 895.6,434.8 896.3,443.1 C896.9,451.4 897.6,457.6 898.3,462.6 C899.0,467.7 899.7,470.5 900.7,473.4 C901.7,476.4 901.9,477.3 904.2,480.4 C906.5,483.4 909.6,488.5 914.4,491.6 C919.3,494.8 927.7,497.1 933.4,499.2 C939.2,501.3 944.5,502.1 948.7,504.2 C952.9,506.3 956.2,507.9 958.8,512.0 C961.3,516.0 962.2,522.5 963.9,528.4 C965.6,534.4 967.5,541.0 969.0,547.5 C970.5,554.0 971.7,560.4 972.8,567.6 C973.9,574.8 974.6,581.7 975.7,590.6 C976.9,599.5 978.6,612.7 979.8,621.1 C981.0,629.5 982.1,634.2 982.8,641.2 C983.5,648.3 982.2,661.8 983.9,663.5 C985.6,665.2 988.9,654.6 993.0,651.4 C997.2,648.2 1002.9,646.2 1009.0,644.5 C1015.0,642.8 1017.5,642.0 1029.4,641.2 C1041.3,640.5 1055.2,639.9 1080.5,640.2 C1105.8,640.4 1147.7,641.6 1181.3,642.8 C1214.9,643.9 1254.0,645.5 1282.1,647.1 C1310.1,648.6 1333.0,650.6 1349.5,652.1 C1365.9,653.5 1369.7,653.2 1380.8,656.0 C1391.9,658.7 1404.3,664.5 1416.2,668.5 C1428.1,672.6 1443.3,677.5 1452.3,680.2 C1461.3,682.9 1464.1,682.3 1470.0,684.5 C1475.9,686.7 1481.7,689.6 1487.7,693.4 C1493.7,697.3 1500.1,702.0 1506.1,707.7 C1512.1,713.4 1517.9,720.3 1523.8,727.4 C1529.7,734.5 1535.6,742.5 1541.5,750.6 C1547.4,758.6 1553.3,769.0 1559.2,775.7 C1565.1,782.4 1568.0,786.2 1576.9,790.6 C1585.9,795.1 1601.1,798.9 1613.0,802.3 C1624.9,805.7 1632.1,808.4 1648.4,811.2 C1664.8,813.9 1700.6,817.5 1711.1,818.8" stroke="#f04545" stroke-width="5.8"/>
<path d="M892.8,381.4 C893.0,385.9 893.4,397.7 894.1,408.5 C894.7,419.3 895.9,435.5 896.6,446.0 C897.3,456.4 897.8,464.3 898.5,471.3 C899.2,478.3 899.4,483.5 901.0,488.0 C902.6,492.4 904.8,495.4 908.0,497.9 C911.3,500.4 915.8,501.5 920.7,503.1 C925.6,504.7 932.8,505.7 937.3,507.4 C941.7,509.1 944.9,510.8 947.4,513.3 C949.9,515.7 951.0,518.0 952.4,522.2 C953.9,526.3 955.0,532.1 956.3,538.4 C957.5,544.7 958.8,551.4 960.1,560.0 C961.3,568.7 962.4,580.4 963.6,590.6 C964.9,600.8 966.5,611.8 967.6,621.1 C968.8,630.4 969.5,641.1 970.7,646.6 C971.9,652.2 972.3,654.3 974.7,654.4 C977.1,654.6 980.5,648.7 984.9,647.3 C989.3,645.9 993.4,646.1 1001.1,645.8 C1008.9,645.5 1018.2,644.9 1031.4,645.4 C1044.7,645.8 1063.9,647.1 1080.5,648.6 C1097.0,650.1 1116.9,651.6 1130.9,654.4 C1144.8,657.3 1153.1,660.6 1164.2,665.5 C1175.4,670.4 1189.5,678.9 1197.9,683.9 C1206.3,688.9 1209.9,690.8 1214.6,695.6 C1219.3,700.3 1222.6,705.8 1226.2,712.5 C1229.8,719.2 1233.0,727.2 1236.4,735.8 C1239.8,744.5 1243.8,756.7 1246.6,764.4 C1249.5,772.2 1250.2,776.1 1253.4,782.4 C1256.7,788.7 1259.8,796.4 1266.4,802.1 C1273.0,807.8 1281.0,811.6 1292.9,816.4 C1304.9,821.1 1318.5,827.3 1337.9,830.7 C1357.3,834.1 1385.6,835.4 1409.4,836.7 C1433.2,838.1 1455.7,838.0 1480.6,838.7 C1505.4,839.3 1545.5,840.3 1558.5,840.6" stroke="#0a6fcf" stroke-width="6.4"/>
</g>
</svg>
</body></html>
